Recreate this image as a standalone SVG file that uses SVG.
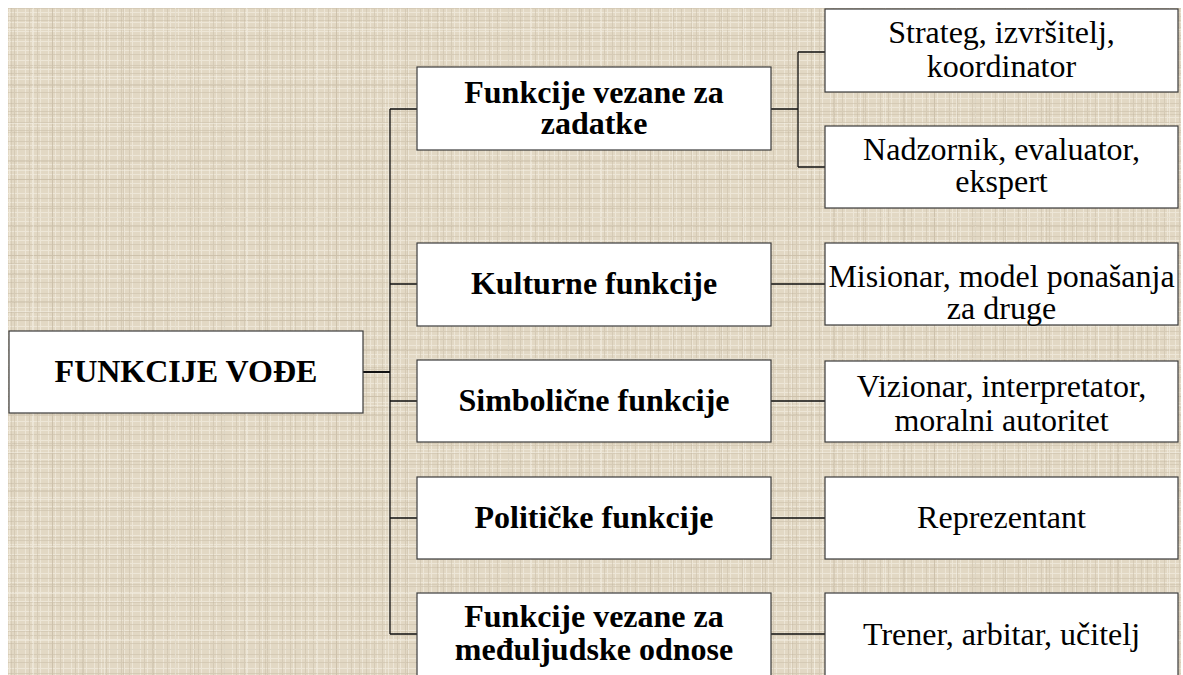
<svg xmlns="http://www.w3.org/2000/svg" width="1183" height="675" viewBox="0 0 1183 675" font-family="Liberation Serif, serif">
<defs>
<pattern id="linenA" width="23" height="19" patternUnits="userSpaceOnUse">
<rect width="23" height="19" fill="#e2d8c4"/>
<g stroke="#efe8da" stroke-width="1" opacity="0.9">
<line x1="2.5" y1="0" x2="2.5" y2="19"/><line x1="9.5" y1="0" x2="9.5" y2="19"/><line x1="17.5" y1="0" x2="17.5" y2="19"/>
<line x1="0" y1="3.5" x2="23" y2="3.5"/><line x1="0" y1="12.5" x2="23" y2="12.5"/>
</g>
<g stroke="#cdc2ac" stroke-width="1" opacity="0.6">
<line x1="6.5" y1="0" x2="6.5" y2="19"/><line x1="14.5" y1="0" x2="14.5" y2="19"/>
<line x1="0" y1="8.5" x2="23" y2="8.5"/><line x1="0" y1="16.5" x2="23" y2="16.5"/>
</g>
</pattern>
<pattern id="linenB" width="71" height="47" patternUnits="userSpaceOnUse">
<g stroke="#b8ac94" stroke-width="1" opacity="0.3">
<line x1="11.5" y1="0" x2="11.5" y2="47"/><line x1="52.5" y1="0" x2="52.5" y2="47"/>
<line x1="0" y1="20.5" x2="71" y2="20.5"/><line x1="0" y1="38.5" x2="71" y2="38.5"/>
</g>
<g stroke="#f6f1e8" stroke-width="1" opacity="0.5">
<line x1="33.5" y1="0" x2="33.5" y2="47"/><line x1="0" y1="29.5" x2="71" y2="29.5"/>
</g>
</pattern>
</defs>
<rect x="0" y="0" width="1183" height="675" fill="#ffffff"/>
<rect x="8" y="8" width="1173" height="667" fill="url(#linenA)"/>
<rect x="8" y="8" width="1173" height="667" fill="url(#linenB)"/>

<g id="connectors" stroke="#111" stroke-width="1.3" fill="none">
<path d="M363 372 H390" stroke-width="2"/>
<path d="M390 109 V634"/>
<path d="M390 109 H417 M390 284 H417 M390 401 H417 M390 518 H417 M390 634 H417"/>
<path d="M771 109 H798 M798 52 V167 M798 52 H825 M798 167 H825"/>
<path d="M771 284 H825 M771 401 H825 M771 518 H825 M771 634 H825"/>
</g>

<g fill="#ffffff" stroke="#3a3a3a" stroke-width="1.2">
<rect id="root-box" x="9" y="331" width="354" height="82"/>
<rect id="zadaci-box" x="417" y="67" width="354" height="83"/>
<rect id="kulturne-box" x="417" y="243" width="354" height="83"/>
<rect id="simbolicne-box" x="417" y="360" width="354" height="82"/>
<rect id="politicke-box" x="417" y="477" width="354" height="82"/>
<rect id="medjuljudske-box" x="417" y="593" width="354" height="83"/>
<rect id="strateg-box" x="825" y="9" width="353" height="83"/>
<rect id="nadzornik-box" x="825" y="126" width="353" height="82"/>
<rect id="misionar-box" x="825" y="243" width="353" height="82"/>
<rect id="vizionar-box" x="825" y="361" width="353" height="81"/>
<rect id="reprezentant-box" x="825" y="477" width="353" height="82"/>
<rect id="trener-box" x="825" y="593" width="353" height="83"/>
</g>

<g font-family="Liberation Serif" font-weight="bold" font-size="32" text-anchor="middle" fill="#000">
<g id="root"><text x="186" y="382">FUNKCIJE VO&#272;E</text></g>
<g id="zadaci"><text x="594" y="103">Funkcije vezane za</text><text x="594" y="134">zadatke</text></g>
<g id="kulturne"><text x="594" y="294">Kulturne funkcije</text></g>
<g id="simbolicne"><text x="594" y="411">Simboli&#269;ne funkcije</text></g>
<g id="politicke"><text x="594" y="528">Politi&#269;ke funkcije</text></g>
<g id="medjuljudske"><text x="594" y="627">Funkcije vezane za</text><text x="594" y="660">me&#273;uljudske odnose</text></g>
</g>

<g font-family="Liberation Serif" font-size="32" text-anchor="middle" fill="#000">
<g id="strateg"><text x="1001.5" y="43">Strateg, izvr&#353;itelj,</text><text x="1001.5" y="77">koordinator</text></g>
<g id="nadzornik"><text x="1001.5" y="160">Nadzornik, evaluator,</text><text x="1001.5" y="192">ekspert</text></g>
<g id="misionar"><text x="1001.5" y="287">Misionar, model pona&#353;anja</text><text x="1001.5" y="319">za druge</text></g>
<g id="vizionar"><text x="1001.5" y="397">Vizionar, interpretator,</text><text x="1001.5" y="431">moralni autoritet</text></g>
<g id="reprezentant"><text x="1001.5" y="528">Reprezentant</text></g>
<g id="trener"><text x="1001.5" y="645">Trener, arbitar, u&#269;itelj</text></g>
</g>
</svg>
